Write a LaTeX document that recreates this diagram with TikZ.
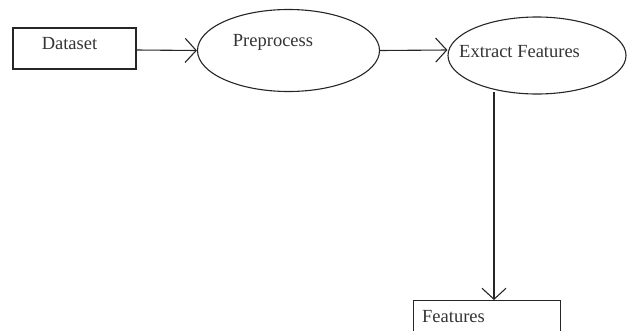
\documentclass[tikz,border=0pt]{standalone}
\usepackage{fontspec}
\setmainfont{Liberation Serif}
\usetikzlibrary{arrows.meta,shapes.geometric}
\begin{document}
\begin{tikzpicture}[x=1pt,y=-1pt,
  line/.style={draw=black!85, line width=1.1pt},
  box/.style={line, rectangle, inner sep=0pt},
  oval/.style={line, ellipse, inner sep=0pt},
  lbl/.style={font=\fontsize{18.5}{20}\selectfont, text=black!80, inner sep=0pt},
  conn/.style={line, -{Straight Barb[length=11pt,width=24pt,line width=1.1pt]}}]
\useasboundingbox (0,0) rectangle (634,330);
\node[box, minimum width=123pt, minimum height=41pt] (ds) at (74.5,48.5) {};
\node[lbl] (dst) at (69.5,44) {Dataset};
\node[oval, minimum width=182pt, minimum height=82pt] (pp) at (288.5,50.5) {};
\node[lbl] (ppt) at (273,42) {Preprocess};
\node[oval, minimum width=178pt, minimum height=77pt] (ef) at (537,55.5) {};
\node[lbl, anchor=west] (eft) at (459,52) {Extract Features};
\node[box, minimum width=147pt, minimum height=40pt, anchor=north west] (ft) at (413,300) {};
\node[lbl, anchor=west] (ftt) at (422,317) {Features};
\coordinate (efb) at (494,92);
\draw[conn] (ds.east |- 0,50) -- (pp.west);
\draw[conn] (pp.east) -- (ef.west |- 0,50);
\draw[conn] (efb) -- (efb |- ft.north);
\end{tikzpicture}
\end{document}
